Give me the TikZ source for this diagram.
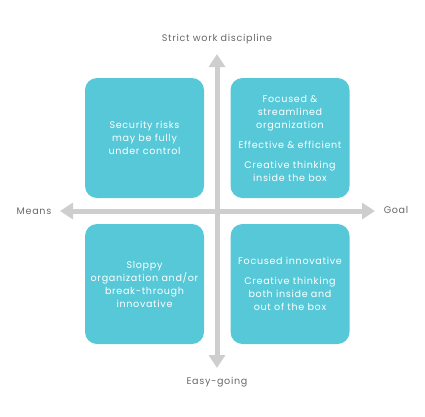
\documentclass[tikz,border=0pt]{standalone}
\usepackage{fontspec}
\setmainfont[LetterSpace=7]{Poppins}
\usetikzlibrary{arrows.meta}
\definecolor{quadfill}{RGB}{87,200,216}
\definecolor{axisgray}{RGB}{206,206,206}
\definecolor{labelgray}{RGB}{105,105,105}

\begin{document}
\begin{tikzpicture}[yscale=-1
,quad/.style={fill=quadfill,rounded corners=12pt,minimum width=119pt,minimum height=120pt,inner sep=0pt,text=white,align=center,font=\fontsize{9.6}{13}\selectfont}
,axis/.style={color=axisgray,line width=5pt,{Triangle[width=16pt,length=13pt]}-{Triangle[width=16pt,length=13pt]}}
,axislabel/.style={text=labelgray,font=\fontsize{9.6}{11}\selectfont}
]
\useasboundingbox (0pt,0pt) rectangle (425pt,416pt);
% axes
\coordinate (mtip) at (60pt,211pt);
\coordinate (gtip) at (375pt,211pt);
\coordinate (stip) at (217pt,54pt);
\coordinate (etip) at (217pt,368pt);
\draw[axis] (mtip) -- (gtip);
\draw[axis] (etip) -- (stip);
\node[axislabel] (means) at (34pt,211pt) {Means};
\node[axislabel] (goal) at (396pt,210pt) {Goal};
\node[axislabel] (strict) at (217pt,39pt) {Strict work discipline};
\node[axislabel] (easy) at (217pt,382pt) {Easy-going};
% quadrants
\node[quad] (tl) at (144.5pt,138pt) {Security risks\\may be fully\\under control};
\node[quad] (tr) at (290pt,138pt) {Focused \&\\streamlined\\organization\\[7pt]Effective \& efficient\\[7pt]Creative thinking\\inside the box};
\node[quad] (bl) at (144.5pt,284pt) {Sloppy\\organization and/or\\break-through\\innovative};
\node[quad] (br) at (290pt,284pt) {Focused innovative\\[7pt]Creative thinking\\both inside and\\out of the box};
\end{tikzpicture}
\end{document}
